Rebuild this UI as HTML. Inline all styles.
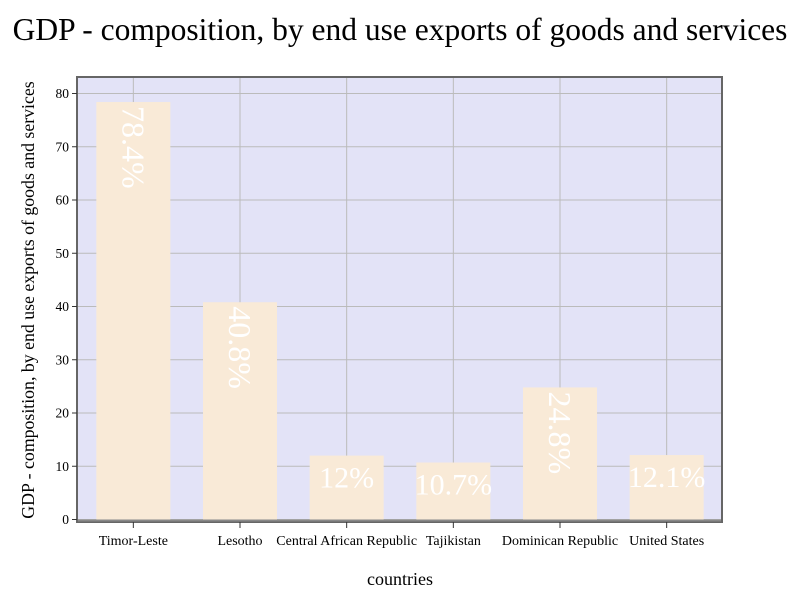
<!DOCTYPE html>
<html><head><meta charset="utf-8"><style>
body{margin:0;background:#fff;}
svg{display:block;font-family:"Liberation Serif",serif;}
</style></head><body>
<svg id="chart" width="800" height="600">
<text x="400" y="40" text-anchor="middle" font-size="31.5">GDP - composition, by end use exports of goods and services</text>
<rect x="77" y="77" width="645" height="445" fill="#e3e3f7" stroke="#666" stroke-width="2"/>
<g id="grid"></g><g id="bars"></g><g id="axes"></g>
<text x="400" y="585" text-anchor="middle" font-size="18">countries</text>
<text transform="translate(34,300) rotate(-90)" text-anchor="middle" font-size="17.8">GDP - composition, by end use exports of goods and services</text>
</svg>
<script>
const categories=["Timor-Leste","Lesotho","Central African Republic","Tajikistan","Dominican Republic","United States"];
const values=[78.4,40.8,12,10.7,24.8,12.1];
const labels=["78.4%","40.8%","12%","10.7%","24.8%","12.1%"];
const yTicks=[0,10,20,30,40,50,60,70,80];
const NS="http://www.w3.org/2000/svg";
const x0=80,x1=720,y0=519.5,yTop=93.5,yMax=80;
const band=(x1-x0)/categories.length,bw=74;
function y(v){return y0-(y0-yTop)*v/yMax;}
function xc(i){return x0+band*(i+0.5);}
function mk(p,tag,a){const e=document.createElementNS(NS,tag);for(const k in a)e.setAttribute(k,a[k]);p.appendChild(e);return e;}
const grid=document.getElementById('grid'),bars=document.getElementById('bars'),axes=document.getElementById('axes');
yTicks.forEach(t=>{
 const l=mk(grid,'line',{x1:78,x2:721,y1:y(t),y2:y(t),stroke:'#bbb','stroke-width':1});
 
 
 mk(axes,'line',{x1:72,x2:77,y1:y(t),y2:y(t),stroke:'#333'});
 const tx=mk(axes,'text',{x:69,y:y(t)+4.5,'text-anchor':'end','font-size':13.5});
 tx.textContent=t;
 
 
});
categories.forEach((c,i)=>{
 const l=mk(grid,'line',{x1:xc(i),x2:xc(i),y1:78,y2:521,stroke:'#bbb','stroke-width':1});
 
 
 const r=mk(bars,'rect',{x:xc(i)-bw/2,y:y(values[i]),width:bw,height:y0-y(values[i]),fill:'#f9ead7'});
 
 
 let t;
 if(y0-y(values[i])>90){
  t=mk(bars,'text',{transform:`translate(${xc(i)-11},${y(values[i])+4}) rotate(90)`,'font-size':32,fill:'#fff','text-anchor':'start'});
 }else{
  t=mk(bars,'text',{x:xc(i),y:y(values[i])+32,'font-size':30,fill:'#fff','text-anchor':'middle'});
 }
 t.textContent=labels[i];
 
 
 mk(axes,'line',{x1:xc(i),x2:xc(i),y1:522,y2:528,stroke:'#333'});
 const tx=mk(axes,'text',{x:xc(i),y:545,'text-anchor':'middle','font-size':14});
 tx.textContent=c;
 
 
});
mk(axes,'line',{x1:78,x2:721,y1:y0+1,y2:y0+1,stroke:'#888','stroke-width':2});
</script>
</body></html>
